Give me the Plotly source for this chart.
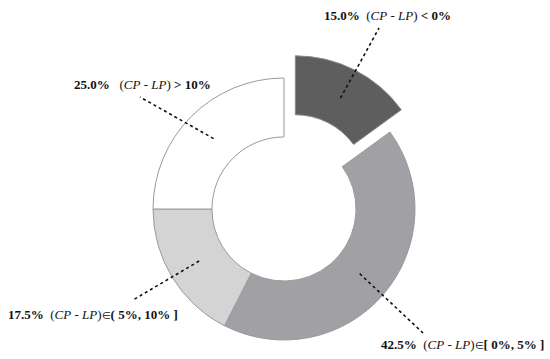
import math
import plotly.graph_objects as go

# ---- data ----
categories = ["(CP - LP) < 0%", "(CP - LP) ∈ [0%, 5%]", "(CP - LP) ∈ (5%, 10%]", "(CP - LP) > 10%"]
shares = [15.0, 42.5, 17.5, 25.0]
EL = "<span style='font-size:10px'>∈</span>"
label_texts = [
    "<b>15.0%</b>  (<i>CP</i> - <i>LP</i>) <b>&lt; 0%</b>",
    "<b>42.5%</b>  (<i>CP</i> - <i>LP</i>)" + EL + "<b>[ 0%, 5% ]</b>",
    "<b>17.5%</b>  (<i>CP</i> - <i>LP</i>)" + EL + "<b>( 5%, 10% ]</b>",
    "<b>25.0%</b>   (<i>CP</i> - <i>LP</i>) <b>&gt; 10%</b>",
]
colors = ["#5e5e5e", "#a1a0a4", "#d4d4d4", "#ffffff"]
pulls = [0.19, 0, 0, 0]

W, H = 550, 359
cx, cy = 284, 209
R = 131
HOLE = 0.55

label_pos = [(322, 16), (379, 344), (6, 314), (72, 84)]
leader_outer = [(379, 28), (423, 333), (133, 300), (140, 97)]

total = sum(shares)
mids, centers = [], []
cum = 0.0
for i, v in enumerate(shares):
    mid = (cum + v / 2) / total * 2 * math.pi
    cum += v
    mids.append(mid)
    centers.append((cx + pulls[i] * R * math.sin(mid), cy - pulls[i] * R * math.cos(mid)))


def dom(c):
    x, y = c
    return dict(x=[(x - R) / W, (x + R) / W], y=[1 - (y + R) / H, 1 - (y - R) / H])


TRANSP = "rgba(0,0,0,0)"
fig = go.Figure()
# slices that are not pulled out
fig.add_trace(go.Pie(
    labels=categories, values=shares, sort=False, direction="clockwise", rotation=0,
    hole=HOLE, textinfo="none", hoverinfo="label+percent",
    marker=dict(colors=[TRANSP if p else c for c, p in zip(colors, pulls)],
                line=dict(color="#9a9a9a", width=[0 if p else 1 for p in pulls])),
    domain=dom((cx, cy)), showlegend=False,
))
# pulled-out slice(s)
pi_ = max(range(len(pulls)), key=lambda k: pulls[k])
fig.add_trace(go.Pie(
    labels=categories, values=shares, sort=False, direction="clockwise", rotation=0,
    hole=HOLE, textinfo="none", hoverinfo="label+percent",
    marker=dict(colors=[c if p else TRANSP for c, p in zip(colors, pulls)],
                line=dict(color="#8c8c8c", width=[1 if p else 0 for p in pulls])),
    domain=dom(centers[pi_]), showlegend=False,
))

shapes, annotations = [], []
for i in range(len(shares)):
    ox, oy = centers[i]
    ix = ox + 0.76 * R * math.sin(mids[i])
    iy = oy - 0.76 * R * math.cos(mids[i])
    ex, ey = leader_outer[i]
    shapes.append(dict(type="line", xref="paper", yref="paper",
                       x0=ix / W, y0=1 - iy / H, x1=ex / W, y1=1 - ey / H,
                       line=dict(color="#111111", width=1.6, dash="dot")))
    lx, ly = label_pos[i]
    annotations.append(dict(text=label_texts[i], xref="paper", yref="paper",
                            x=lx / W, y=1 - ly / H, xanchor="left", yanchor="middle",
                            showarrow=False,
                            font=dict(family="Liberation Serif, Times New Roman, serif",
                                      size=13, color="#111111")))

fig.update_layout(width=W, height=H, margin=dict(l=0, r=0, t=0, b=0),
                  paper_bgcolor="white", plot_bgcolor="white",
                  shapes=shapes, annotations=annotations)
fig.write_html("out.html", config={"displayModeBar": False},
               post_script="document.body.style.margin='0';document.body.style.overflow='hidden';")
